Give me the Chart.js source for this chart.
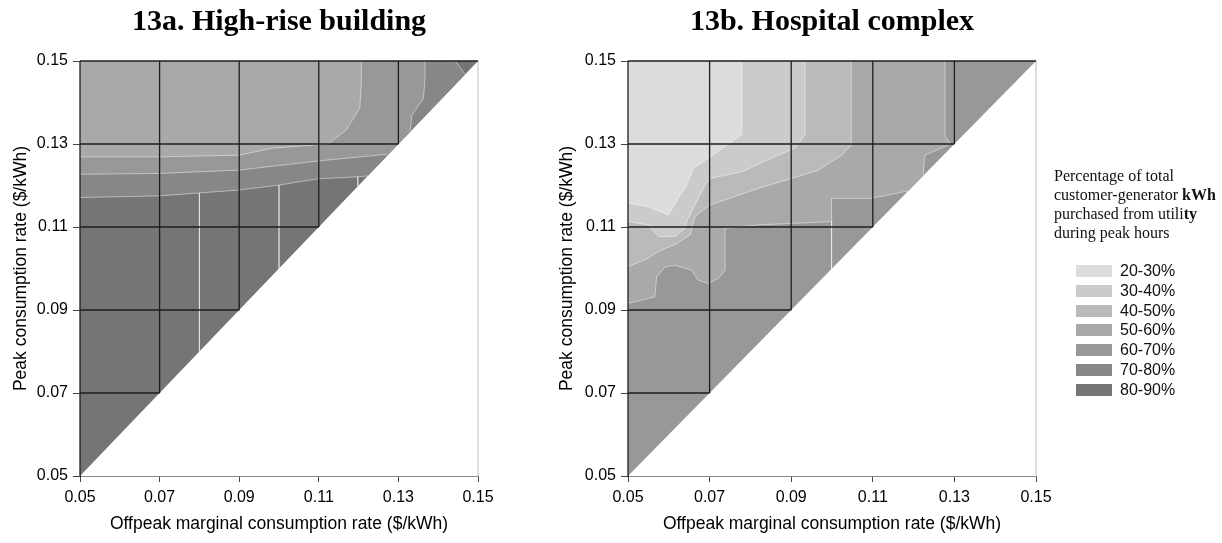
<!DOCTYPE html>
<html>
<head>
<meta charset="utf-8">
<script src="https://cdn.jsdelivr.net/npm/chart.js@4.4.1/dist/chart.umd.min.js"></script>
<style>
html,body{margin:0;padding:0;background:#fff;}
#wrap{position:relative;width:1222px;height:543px;overflow:hidden;background:#fff;}
canvas{position:absolute;top:0;}
#c1{left:0;}
#c2{left:548px;}
#legend{position:absolute;left:0;top:0;width:1222px;height:543px;pointer-events:none;}
.lt{position:absolute;left:1054px;font-family:'Liberation Serif',serif;font-size:16px;line-height:19px;color:#111;white-space:nowrap;}
.sw{position:absolute;left:1076px;width:36px;height:12px;}
.sl{position:absolute;left:1120px;font-family:'Liberation Sans',Arial,sans-serif;font-size:16px;line-height:20px;color:#111;white-space:nowrap;}
</style>
</head>
<body>
<div id="wrap">
<canvas id="c1" width="558" height="543"></canvas>
<canvas id="c2" width="568" height="543"></canvas>
<div id="legend"></div>
</div>
<script>
// ---------- data ----------
const xTicks = [0.05, 0.07, 0.09, 0.11, 0.13, 0.15];
const yTicks = [0.05, 0.07, 0.09, 0.11, 0.13, 0.15];
const gridSteps = [0.07, 0.09, 0.11, 0.13];
const bandLabels = ['20-30%', '30-40%', '40-50%', '50-60%', '60-70%', '70-80%', '80-90%'];
const legendTitle = ['Percentage of total', 'customer-generator <b>kWh</b>', 'purchased from utili<b>ty</b>', 'during peak hours'];

// 13a. High-rise building: contour boundaries [offpeak, peak]
const hrise60 = [[0.05,0.1269],[0.0698,0.1269],[0.0899,0.1273],[0.0984,0.1290],[0.1097,0.1298],[0.1123,0.1300],[0.1169,0.1334],[0.1203,0.1386],[0.1207,0.1450],[0.1207,0.15]];
const hrise70a = [[0.05,0.1227],[0.0698,0.1229],[0.0899,0.1237],[0.1097,0.1259],[0.1268,0.1275],[0.1272,0.1272]];
const hrise70b = [[0.1329,0.1329],[0.1334,0.1370],[0.1363,0.1410],[0.1367,0.1460],[0.1367,0.15]];
const hrise80a = [[0.05,0.1171],[0.0698,0.1175],[0.0899,0.1189],[0.1000,0.1201],[0.1097,0.1216],[0.1198,0.1221],[0.1223,0.1223]];
const hrise80b = [[0.1468,0.1468],[0.1443,0.15]];
const hriseSeams = [[[0.08,0.1182],[0.08,0.08]], [[0.10,0.1201],[0.10,0.10]], [[0.1198,0.1221],[0.1198,0.1198]]];

// 13b. Hospital complex: contour boundaries [offpeak, peak]
const hosp30 = [[0.05,0.1157],[0.055,0.1149],[0.0599,0.1129],[0.0623,0.1169],[0.0644,0.1201],[0.066,0.1241],[0.0697,0.1266],[0.0779,0.1322],[0.0779,0.15]];
const hosp40 = [[0.05,0.1113],[0.055,0.1105],[0.0574,0.1077],[0.0615,0.1077],[0.064,0.1097],[0.0644,0.1113],[0.0664,0.1153],[0.0689,0.1201],[0.0701,0.1217],[0.0779,0.1233],[0.0852,0.1266],[0.0909,0.1290],[0.0934,0.1322],[0.0934,0.15]];
const hosp50 = [[0.05,0.1004],[0.055,0.1025],[0.0574,0.1041],[0.062,0.106],[0.0652,0.1081],[0.0664,0.1125],[0.0689,0.1145],[0.0701,0.1153],[0.0819,0.1193],[0.0901,0.1217],[0.0966,0.1237],[0.1024,0.1273],[0.1047,0.1298],[0.1047,0.15]];
const hosp60a = [[0.05,0.0916],[0.055,0.0928],[0.0566,0.0932],[0.057,0.098],[0.0591,0.1004],[0.0615,0.1008],[0.0656,0.0996],[0.0672,0.0972],[0.0697,0.0964],[0.0721,0.0976],[0.0738,0.0996],[0.0738,0.1097],[0.082,0.1105],[0.0999,0.1113],[0.0999,0.1169],[0.1097,0.1169],[0.1187,0.1187]];
const hosp60b = [[0.1224,0.1224],[0.1224,0.1235],[0.1228,0.1273],[0.1290,0.1300],[0.1277,0.1320],[0.1277,0.15]];
const hospSeams = [[[0.0999,0.1113],[0.0999,0.0999]]];

// ---------- styles ----------
const bandColors = ['#dcdcdc', '#cbcbcb', '#bababa', '#a9a9a9', '#989898', '#878787', '#757575'];
const gridColor = '#1e1e1e';
const seamColor = 'rgba(255,255,255,0.45)';

// ---------- helpers ----------
const LO = xTicks[0], HI = xTicks[xTicks.length - 1];
const pts = a => a.map(p => ({x: p[0], y: p[1]}));
function region(poly, color, order) {
  return {data: pts(poly), fill: 'shape', backgroundColor: color, borderColor: 'rgba(0,0,0,0)',
          borderWidth: 0, pointRadius: 0, pointHoverRadius: 0, order: order, tension: 0};
}
function stroke(path, color, width, order) {
  return {data: pts(path), fill: false, borderColor: color, borderWidth: width, pointRadius: 0,
          pointHoverRadius: 0, order: order, clip: false, tension: 0};
}
function frameSets() {
  const out = [];
  out.push(stroke([[LO, HI], [HI, HI]], gridColor, 1.3, 1));
  out.push(stroke([[LO, LO], [LO, HI]], gridColor, 1.3, 1));
  out.push(stroke([[HI, LO], [HI, HI]], '#bdbdbd', 1, 2));
  gridSteps.forEach(s => {
    out.push(stroke([[s, HI], [s, s]], gridColor, 1.3, 1));
    out.push(stroke([[LO, s], [s, s]], gridColor, 1.3, 1));
  });
  return out;
}
const baseTri = [[LO, LO], [LO, HI], [HI, HI]];

const hriseSets = [
  ...frameSets(),
  stroke(hrise60, seamColor, 1, 5),
  stroke(hrise70a, seamColor, 1, 5),
  stroke(hrise70b, seamColor, 1, 5),
  stroke(hrise80a, seamColor, 1, 5),
  stroke(hrise80b, seamColor, 1, 5),
  ...hriseSeams.map(s => stroke(s, seamColor, 1, 5)),
  region([...hrise60, [LO, HI]], bandColors[3], 7),
  region([...hrise70a, ...hrise70b, [LO, HI]], bandColors[4], 8),
  region([...hrise80a, ...hrise80b, [LO, HI]], bandColors[5], 9),
  region(baseTri, bandColors[6], 10)
];

const hospSets = [
  ...frameSets(),
  stroke(hosp30, seamColor, 1, 5),
  stroke(hosp40, seamColor, 1, 5),
  stroke(hosp50, seamColor, 1, 5),
  stroke(hosp60a, seamColor, 1, 5),
  stroke(hosp60b, seamColor, 1, 5),
  ...hospSeams.map(s => stroke(s, seamColor, 1, 5)),
  region([...hosp30, [LO, HI]], bandColors[0], 6),
  region([...hosp40, [LO, HI]], bandColors[1], 7),
  region([...hosp50, [LO, HI]], bandColors[2], 8),
  region([...hosp60a, ...hosp60b, [LO, HI]], bandColors[3], 9),
  region(baseTri, bandColors[4], 10)
];

const tickFont = {family: 'Liberation Sans', size: 16};
const axisFont = {family: 'Liberation Sans', size: 17.5};

function makeChart(id, title, datasets, yTitlePad) {
  return new Chart(document.getElementById(id), {
    type: 'line',
    data: {datasets: datasets},
    options: {
      responsive: false,
      animation: false,
      events: [],
      layout: {padding: {left: 0, right: 80, top: 0, bottom: 0}},
      plugins: {
        legend: {display: false},
        tooltip: {enabled: false},
        title: {display: true, text: title, color: '#000', fullSize: false,
                font: {family: 'Liberation Serif', weight: 'bold', size: 30},
                padding: {top: 4, bottom: 21}}
      },
      scales: {
        x: {
          type: 'linear', min: LO, max: HI,
          afterBuildTicks: s => { s.ticks = xTicks.map(v => ({value: v})); },
          afterFit: s => { s.height = 67; },
          ticks: {callback: v => Number(v).toFixed(2), font: tickFont, color: '#000', padding: 6, maxRotation: 0, autoSkip: false},
          grid: {drawOnChartArea: false, drawTicks: true, tickLength: 6, tickColor: '#444'},
          border: {display: true, color: '#8a8a8a', width: 1},
          title: {display: true, text: 'Offpeak marginal consumption rate ($/kWh)', font: axisFont, color: '#000', padding: {top: 0, bottom: 8.5}}
        },
        y: {
          type: 'linear', min: LO, max: HI,
          afterBuildTicks: s => { s.ticks = yTicks.map(v => ({value: v})); },
          afterFit: s => { s.width = 80; },
          ticks: {callback: v => Number(v).toFixed(2), font: tickFont, color: '#000', padding: 5, autoSkip: false},
          grid: {drawOnChartArea: false, drawTicks: true, tickLength: 7, tickColor: '#444'},
          border: {display: true, color: '#222', width: 1},
          title: {display: true, text: 'Peak consumption rate ($/kWh)', font: axisFont, color: '#000', padding: {top: yTitlePad, bottom: 0}}
        }
      }
    }
  });
}

makeChart('c1', '13a. High-rise building', hriseSets, 10.5);
makeChart('c2', '13b. Hospital complex', hospSets, 8.5);

// ---------- legend ----------
const lg = document.getElementById('legend');
legendTitle.forEach((t, i) => {
  const d = document.createElement('div');
  d.className = 'lt';
  d.style.top = (166 + i * 19) + 'px';
  d.innerHTML = t;
  lg.appendChild(d);
});
bandLabels.forEach((lab, i) => {
  const top = 265 + i * 19.8;
  const s = document.createElement('div');
  s.className = 'sw';
  s.style.top = top + 'px';
  s.style.background = bandColors[i];
  lg.appendChild(s);
  const t = document.createElement('div');
  t.className = 'sl';
  t.style.top = (top - 4) + 'px';
  t.textContent = lab;
  lg.appendChild(t);
});
</script>
</body>
</html>
